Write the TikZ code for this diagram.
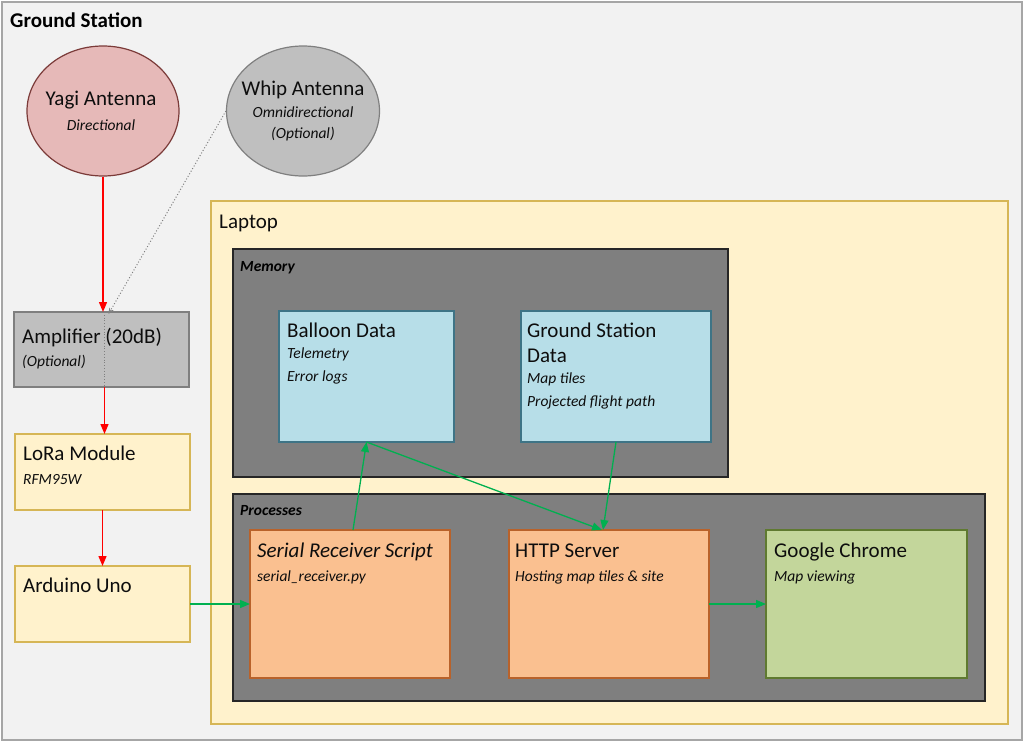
\documentclass[tikz,border=0pt]{standalone}
\usepackage{fontspec}
\setmainfont{Carlito}
\usetikzlibrary{shapes.geometric,arrows.meta}
\definecolor{bgGray}{HTML}{F2F2F2}
\definecolor{frameGray}{HTML}{A6A6A6}
\definecolor{yagiFill}{HTML}{E6B9B8}
\definecolor{yagiLine}{HTML}{7B3B39}
\definecolor{optFill}{HTML}{BFBFBF}
\definecolor{optLine}{HTML}{7F7F7F}
\definecolor{yellowFill}{HTML}{FFF2CC}
\definecolor{yellowLine}{HTML}{D6B656}
\definecolor{groupFill}{HTML}{7F7F7F}
\definecolor{groupLine}{HTML}{262626}
\definecolor{blueFill}{HTML}{B7DEE8}
\definecolor{blueLine}{HTML}{3E7486}
\definecolor{orangeFill}{HTML}{FAC090}
\definecolor{orangeLine}{HTML}{B9622A}
\definecolor{greenFill}{HTML}{C3D69B}
\definecolor{greenLine}{HTML}{5F7A30}
\definecolor{arrowGreen}{HTML}{00B050}
\definecolor{txt}{HTML}{0D0D0D}
\tikzset{
  box/.style={draw, line width=1.2pt, anchor=north west, inner sep=0pt, outer sep=0pt},
  ttl/.style={anchor=base west, inner sep=0pt, text=txt, font=\fontsize{21}{21}\selectfont},
  sub/.style={anchor=base west, inner sep=0pt, text=txt, font=\fontsize{15.5}{15.5}\selectfont\itshape},
  grp/.style={anchor=base west, inner sep=0pt, text=black, font=\fontsize{15.5}{15.5}\selectfont\bfseries\itshape},
  ctitle/.style={anchor=base, inner sep=0pt, text=txt, font=\fontsize{21}{21}\selectfont},
  csub/.style={anchor=base, inner sep=0pt, text=txt, font=\fontsize{15.5}{15.5}\selectfont\itshape},
  redarrow/.style={draw=red, line width=1.3pt, -{Triangle[length=10pt,width=8pt]}},
  greenarrow/.style={draw=arrowGreen, line width=1.3pt, -{Triangle[length=10pt,width=8pt]}},
}
\begin{document}
\begin{tikzpicture}[x=1pt,y=-1pt]
\useasboundingbox (0,0) rectangle (1025,742);
% outer frame
\node[box, draw=frameGray, fill=bgGray, minimum width=1020pt, minimum height=738pt, line width=1.4pt] (gs) at (2,2) {};
\node[anchor=base west, inner sep=0pt, font=\fontsize{21}{21}\selectfont\bfseries] (gslbl) at (10,27) {Ground Station};

% antennas
\node[ellipse, draw=yagiLine, fill=yagiFill, line width=1.2pt, minimum width=152pt, minimum height=130pt, inner sep=0pt] (yagi) at (103,111) {};
\node[ctitle] (yagit) at (101,105) {Yagi Antenna};
\node[csub] (yagis) at (101,130) {Directional};

\node[ellipse, draw=optLine, fill=optFill, line width=1.2pt, minimum width=153pt, minimum height=130pt, inner sep=0pt] (whip) at (303,111) {};
\node[ctitle] (whipt) at (303,95) {Whip Antenna};
\node[csub] (whips1) at (303,117) {Omnidirectional};
\node[csub] (whips2) at (303,138) {(Optional)};

% left chain
\node[box, draw=optLine, fill=optFill, minimum width=175pt, minimum height=75pt] (amp) at (14,312) {};
\node[ttl] (ampt) at (22,343) {Amplifier (20dB)};
\node[sub] (amps) at (22,366) {(Optional)};

\node[box, draw=yellowLine, fill=yellowFill, minimum width=175pt, minimum height=76pt] (lora) at (15,434) {};
\node[ttl] (lorat) at (23,460) {LoRa Module};
\node[sub] (loras) at (23,484) {RFM95W};

\node[box, draw=yellowLine, fill=yellowFill, minimum width=175pt, minimum height=76pt] (ard) at (15,566) {};
\node[ttl] (ardt) at (23,592) {Arduino Uno};

% laptop
\node[box, draw=yellowLine, fill=yellowFill, minimum width=797pt, minimum height=523pt] (laptop) at (211,201) {};
\node[ttl] (laptopt) at (219,228) {Laptop};

% memory
\node[box, draw=groupLine, fill=groupFill, minimum width=495pt, minimum height=228pt] (mem) at (233,249) {};
\node[grp] (memt) at (240,271) {Memory};

\node[box, draw=blueLine, fill=blueFill, minimum width=175pt, minimum height=131pt] (balloon) at (279,311) {};
\node[ttl] (balt) at (287,337) {Balloon Data};
\node[sub] (bals1) at (287,358) {Telemetry};
\node[sub] (bals2) at (287,381) {Error logs};

\node[box, draw=blueLine, fill=blueFill, minimum width=190pt, minimum height=131pt] (gsd) at (521,311) {};
\node[ttl] (gsdt1) at (527,337) {Ground Station};
\node[ttl] (gsdt2) at (527,362) {Data};
\node[sub] (gsds1) at (527,383) {Map tiles};
\node[sub] (gsds2) at (527,406) {Projected flight path};

% processes
\node[box, draw=groupLine, fill=groupFill, minimum width=752pt, minimum height=207pt] (proc) at (233,494) {};
\node[grp] (proct) at (240,515) {Processes};

\node[box, draw=orangeLine, fill=orangeFill, minimum width=200pt, minimum height=148pt] (serial) at (250,530) {};
\node[ttl, font=\fontsize{21}{21}\selectfont\itshape] (serialt) at (257,557) {Serial Receiver Script};
\node[sub] (serials) at (257,581) {serial\_receiver.py};

\node[box, draw=orangeLine, fill=orangeFill, minimum width=200pt, minimum height=148pt] (http) at (509,530) {};
\node[ttl] (httpt) at (515,557) {HTTP Server};
\node[sub] (https) at (515,581) {Hosting map tiles \& site};

\node[box, draw=greenLine, fill=greenFill, minimum width=201pt, minimum height=148pt] (chrome) at (766,530) {};
\node[ttl] (chromet) at (774,557) {Google Chrome};
\node[sub] (chromes) at (774,581) {Map viewing};

% connectors
\draw[redarrow] (yagi.south) -- (yagi.south |- amp.north);
\draw[redarrow] ([xshift=3pt]amp.south) -- ([xshift=3pt]amp.south |- lora.north);
\draw[redarrow] (lora.south) -- (lora.south |- ard.north);
\draw[draw=optLine, dotted, line width=1pt, -{Stealth[length=6pt,width=5pt]}] (whip.west) -- ([xshift=7pt,yshift=-2pt]amp.north);
\draw[draw=optLine, dotted, line width=0.8pt] ([xshift=3pt]amp.north) -- ([xshift=3pt]amp.south);

\draw[greenarrow] (ard.east) -- (ard.east -| serial.west);
\draw[greenarrow] ([xshift=3pt]serial.north) -- (balloon.south);
\draw[greenarrow] (balloon.south) -- ([xshift=-7pt]http.north);
\draw[greenarrow] (gsd.south) -- ([xshift=-6pt]http.north);
\draw[greenarrow] (http.east) -- (http.east -| chrome.west);
\end{tikzpicture}
\end{document}
